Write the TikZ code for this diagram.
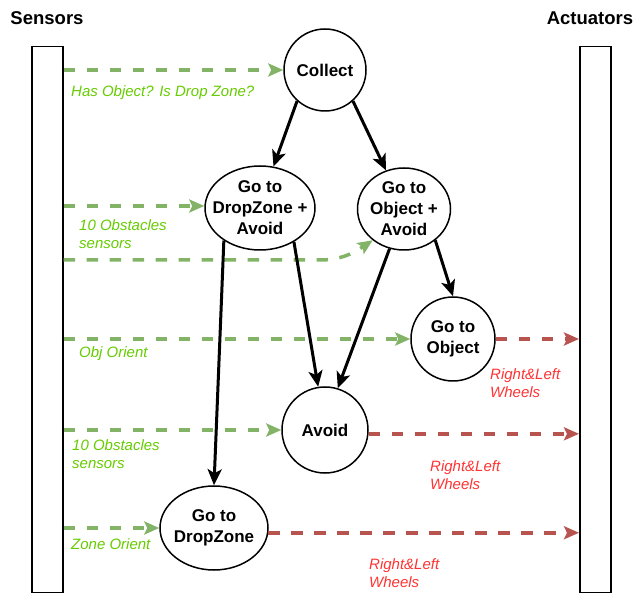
\documentclass[tikz,border=0pt]{standalone}
\usepackage{fontspec}
\setmainfont{Liberation Sans}
\usetikzlibrary{arrows.meta,shapes.geometric}
\definecolor{sensgreen}{HTML}{82B366}
\definecolor{actred}{HTML}{B85450}
\definecolor{labgreen}{HTML}{66CC00}
\definecolor{labred}{HTML}{FF3333}
\begin{document}
\begin{tikzpicture}[x=1pt,y=-1pt,
state/.style={circle, draw=black, line width=1.5pt, inner sep=-10pt, align=center, font=\fontsize{17}{21}\selectfont\bfseries},
ovalstate/.style={state, ellipse},
bar/.style={draw=black, line width=1.5pt, minimum width=31pt, minimum height=546pt, inner sep=0pt, anchor=north west},
title/.style={font=\fontsize{18.5}{22}\selectfont\bfseries},
sensline/.style={draw=sensgreen, line width=3.5pt, dash pattern=on 11.5pt off 11.5pt, -{Stealth[length=15pt,width=13pt,inset=3pt]}},
actline/.style={sensline, draw=actred},
flow/.style={line width=3pt, -{Stealth[length=16pt,width=14pt,inset=4pt]}},
senstext/.style={text=labgreen, font=\fontsize{15}{18}\selectfont\itshape, align=left, anchor=west, inner sep=0pt},
acttext/.style={senstext, text=labred}]
\useasboundingbox (0,0) rectangle (643,593);
\node (senstitle) [title] at (47,18) {Sensors};
\node (acttitle) [title] at (590,18) {Actuators};
\node (sensbar) [bar] at (31,46) {};
\node (actbar) [bar] at (579,46) {};
\node (collect) [state, minimum size=82pt] at (325,70) {Collect};
\node (dzav) [ovalstate, minimum width=110pt, minimum height=84pt] at (260,208) {Go to\\DropZone +\\Avoid};
\node (gobjav) [ovalstate, minimum width=93pt, minimum height=82pt] at (404,209) {Go to\\Object +\\Avoid};
\node (gobj) [state, minimum size=84pt] at (453,339) {Go to\\Object};
\node (avoid) [state, minimum size=86pt] at (325,430) {Avoid};
\node (gdz) [ovalstate, minimum width=108pt, minimum height=84pt] at (214,528) {Go to\\DropZone};
\coordinate (bend) at (320,260);
\draw[sensline] (sensbar.east |- collect.west) -- (collect.west);
\draw[sensline] (sensbar.east |- 0,206) -- (dzav.west |- 0,206);
\draw[sensline] (sensbar.east |- bend) -- (bend) .. controls (340,260) and (352,254) .. (gobjav.225);
\draw[sensline] (sensbar.east |- gobj.west) -- (gobj.west);
\draw[sensline] (sensbar.east |- avoid.west) -- (avoid.west);
\draw[sensline] (sensbar.east |- gdz.west) -- (gdz.west);
\draw[actline] (gobj.east) -- (actbar.west |- gobj.east);
\draw[actline] (avoid.-5) -- (actbar.west |- avoid.-5);
\draw[actline] (gdz.-5) -- (actbar.west |- gdz.-5);
\draw[flow] (collect.228) -- (dzav.72);
\draw[flow] (collect.312) -- (gobjav.115);
\draw[flow] (dzav.222) -- (gdz.north);
\draw[flow] (dzav.315) -- (avoid.99);
\draw[flow] (gobjav.250) -- (avoid.73);
\draw[flow] (gobjav.315) -- (gobj.north);
\node (hasobj) [senstext] at (71,93) {Has Object? Is Drop Zone?};
\node (obst1) [senstext] at (79,234) {10 Obstacles\\sensors};
\node (objor) [senstext] at (79,354) {Obj Orient};
\node (obst2) [senstext] at (72,454) {10 Obstacles\\sensors};
\node (zoneor) [senstext] at (71,544) {Zone Orient};
\node (wheels1) [acttext] at (490,383) {Right\&Left\\Wheels};
\node (wheels2) [acttext] at (430,475) {Right\&Left\\Wheels};
\node (wheels3) [acttext] at (369,573) {Right\&Left\\Wheels};
\end{tikzpicture}
\end{document}
